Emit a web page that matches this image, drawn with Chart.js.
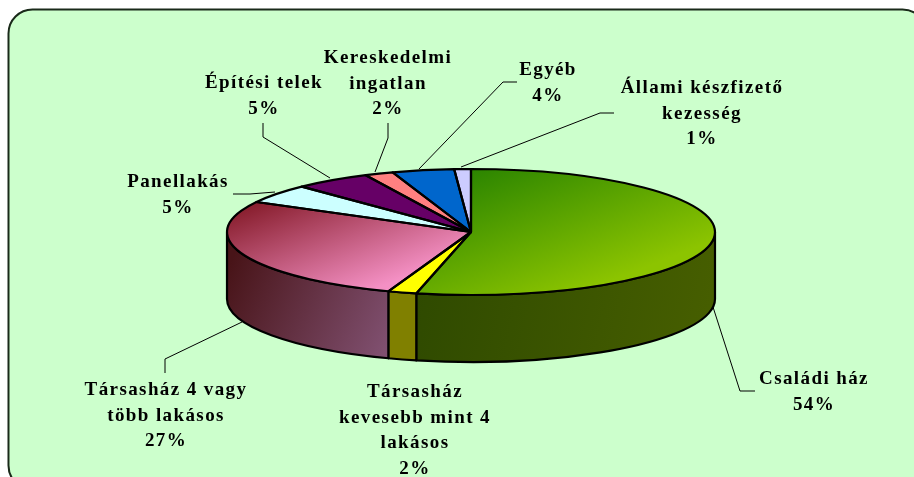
<!DOCTYPE html>
<html lang="hu">
<head>
<meta charset="utf-8">
<title>Lakáshitelek fedezete</title>
<script src="https://cdn.jsdelivr.net/npm/chart.js@4/dist/chart.umd.min.js"></script>
<style>
  html, body { margin: 0; padding: 0; background: #fff; overflow: hidden; }
  canvas { display: block; }
</style>
</head>
<body>
<canvas id="grafikon" width="914" height="477"></canvas>
<script>
// Adatok
const kategoriak = ["Családi ház", "Társasház kevesebb mint 4 lakásos", "Társasház 4 vagy több lakásos", "Panellakás", "Építési telek", "Kereskedelmi ingatlan", "Egyéb", "Állami készfizető kezesség"];
const ertekek = [53.6, 1.9, 27.4, 4.9, 5.1, 1.9, 4.1, 1.1];
const szazalekok = ["54%", "2%", "27%", "5%", "5%", "2%", "4%", "1%"];

const szinek = ["#5aa400", "#ffff00", "#c45a80", "#ccffff", "#660066", "#ff8080", "#0066cc", "#ccccff"];

// A pite elhelyezése a képen
const CX = 471, CY = 232, RX = 244, RY = 63, MELYSEG = 67;

// Feliratok: sorok, középpont, első alapvonal
const feliratok = [
  { sorok: ["Családi ház"], x: 814, y: 384 },
  { sorok: ["Társasház", "kevesebb mint 4", "lakásos"], x: 415, y: 397 },
  { sorok: ["Társasház 4 vagy", "több lakásos"], x: 166, y: 395 },
  { sorok: ["Panellakás"], x: 178, y: 187 },
  { sorok: ["Építési telek"], x: 264, y: 88 },
  { sorok: ["Kereskedelmi", "ingatlan"], x: 388, y: 63 },
  { sorok: ["Egyéb"], x: 548, y: 75 },
  { sorok: ["Állami készfizető", "kezesség"], x: 702, y: 93 }
];

const vezetok = [
  [[713, 307], [740, 391], [755, 391]],
  [[242, 322], [165, 359], [165, 373]],
  [[233, 194], [250, 194], [275, 192]],
  [[263, 123], [263, 137], [330, 178]],
  [[388, 123], [388, 138], [375, 172]],
  [[517, 82], [503, 82], [419, 169]],
  [[614, 113], [600, 113], [461, 167]]
];

// képpont -> a kör saját koordinátái, hogy a színátmenet a lapított rajzon jó helyre essen
function atmenet(chart, x0, y0, x1, y1, c0, c1) {
  const a = chart.chartArea;
  const R = Math.min(a.width, a.height) / 2;
  const mx = a.left + a.width / 2, my = a.top + a.height / 2;
  const g = chart.ctx.createLinearGradient(
    mx + (x0 - CX) * R / RX, my + (y0 - CY) * R / RY,
    mx + (x1 - CX) * R / RX, my + (y1 - CY) * R / RY);
  g.addColorStop(0, c0);
  g.addColorStop(1, c1);
  return g;
}

function oldalSzin(ctx, i) {
  let g;
  if (i == 0) {
    g = ctx.createLinearGradient(416, 290, 700, 350);
    g.addColorStop(0, "#2f4a00");
    g.addColorStop(1, "#465e00");
    return g;
  }
  if (i == 2) {
    g = ctx.createLinearGradient(227, 270, 388, 345);
    g.addColorStop(0, "#481418");
    g.addColorStop(1, "#805070");
    return g;
  }
  return "#808000";
}

const pite3d = {
  id: "pite3d",
  beforeDraw(chart) {
    // zöld lekerekített háttér, jobbra és lent túlnyúlik a képen
    const ctx = chart.ctx;
    ctx.save();
    ctx.beginPath();
    ctx.roundRect(8.5, 9.5, 918, 480, 24);
    ctx.fillStyle = "#ccffcc";
    ctx.fill();
    ctx.lineWidth = 2;
    ctx.strokeStyle = "#1a2a1a";
    ctx.stroke();
    ctx.restore();
  },
  beforeDatasetsDraw(chart) {
    const ctx = chart.ctx;
    const ivek = chart.getDatasetMeta(0).data;
    // a pite oldalfala, csak az elöl látszó rész
    ctx.save();
    ctx.lineWidth = 2.2;
    ctx.strokeStyle = "#000";
    ctx.lineJoin = "round";
    ivek.forEach((iv, i) => {
      const a0 = Math.max(iv.startAngle, 0), a1 = Math.min(iv.endAngle, Math.PI);
      if (a1 <= a0) return;
      ctx.beginPath();
      ctx.ellipse(CX, CY, RX, RY, 0, a0, a1);
      ctx.ellipse(CX, CY + MELYSEG, RX, RY, 0, a1, a0, true);
      ctx.closePath();
      ctx.fillStyle = oldalSzin(ctx, i);
      ctx.fill();
      ctx.stroke();
    });
    ctx.restore();
    // a teteje: a Chart.js rajzolja, csak lapítva
    const elso = ivek[0];
    ctx.save();
    ctx.translate(CX, CY);
    ctx.scale(RX / elso.outerRadius, RY / elso.outerRadius);
    ctx.translate(-elso.x, -elso.y);
  },
  afterDatasetsDraw(chart) {
    const ctx = chart.ctx;
    ctx.restore();
    ctx.save();
    ctx.lineWidth = 2.2;
    ctx.strokeStyle = "#000";
    ctx.lineJoin = "round";
    chart.getDatasetMeta(0).data.forEach(iv => {
      ctx.beginPath();
      ctx.moveTo(CX, CY);
      ctx.ellipse(CX, CY, RX, RY, 0, iv.startAngle, iv.endAngle);
      ctx.closePath();
      ctx.stroke();
    });
    ctx.restore();
  },
  afterDraw(chart) {
    const ctx = chart.ctx;
    ctx.save();
    ctx.lineWidth = 1;
    ctx.strokeStyle = "#000";
    vezetok.forEach(v => {
      ctx.beginPath();
      v.forEach((p, i) => i ? ctx.lineTo(p[0], p[1]) : ctx.moveTo(p[0], p[1]));
      ctx.stroke();
    });
    ctx.fillStyle = "#000";
    ctx.textAlign = "center";
    ctx.textBaseline = "alphabetic";
    ctx.font = "bold 19px 'Liberation Serif'";
    ctx.letterSpacing = "1.4px";
    feliratok.forEach((f, i) => {
      f.sorok.concat(szazalekok[i]).forEach((sor, j) => {
        ctx.fillText(sor, f.x, f.y + j * 25.5);
      });
    });
    ctx.restore();
  }
};

new Chart(document.getElementById("grafikon"), {
  type: "pie",
  data: {
    labels: kategoriak,
    datasets: [{
      data: ertekek,
      borderWidth: 0,
      clip: false,
      backgroundColor(c) {
        if (!c.chart.chartArea) return szinek[c.dataIndex];
        if (c.dataIndex == 0) return atmenet(c.chart, 470, 168, 769, 219, "#2a8400", "#8cc400");
        if (c.dataIndex == 2) return atmenet(c.chart, 232, 215, 463, 254, "#8a2030", "#f490c4");
        return szinek[c.dataIndex];
      }
    }]
  },
  options: {
    responsive: false,
    animation: false,
    devicePixelRatio: 1,
    layout: { padding: 0 },
    plugins: { legend: { display: false }, tooltip: { enabled: false } }
  },
  plugins: [pite3d]
});
</script>
</body>
</html>
